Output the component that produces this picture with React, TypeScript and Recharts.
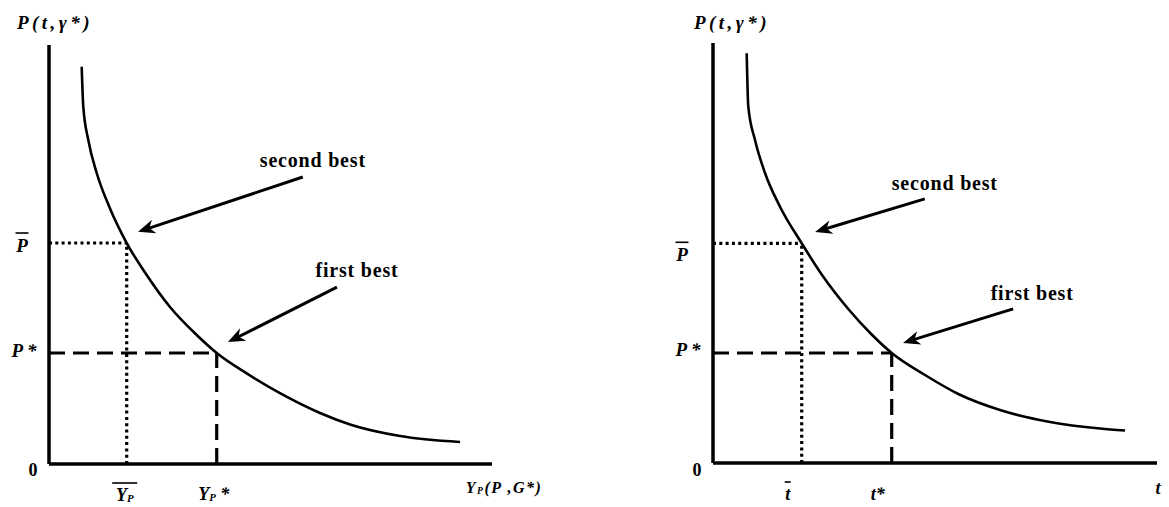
import React from "react";
import { Line, LineChart, ReferenceLine, XAxis, YAxis } from "recharts";

// P(t, γ*) curve, output version (left) and tax version (right)
const leftCurveX = [7.38, 7.74, 8.87, 10.77, 13.77, 17.54, 22.05, 27.31, 33.34, 37.86, 44.63, 52.14, 61.17, 67.95, 79.23, 92.78];
const leftCurveY = [94.82, 85.27, 77.33, 69.45, 60.98, 52.74, 45.11, 37.47, 30.79, 26.49, 21.62, 16.9, 12.17, 9.43, 6.68, 5.25];
const rightCurveX = [7.59, 7.95, 9.46, 11.71, 15.09, 19.98, 24.48, 30.47, 35.74, 40.25, 47.75, 55.25, 64.64, 75.9, 87.16, 92.79];
const rightCurveY = [97.55, 84.83, 76.9, 69.05, 61.02, 52.31, 44.88, 36.67, 30.6, 26.19, 20.95, 16.43, 12.62, 9.76, 8.21, 7.74];

// [x, y] points on the curve: second best (dotted) and first best (dashed)
const leftSecondBest = [17.54, 52.74];
const leftFirstBest = [37.86, 26.49];
const rightSecondBest = [19.98, 52.31];
const rightFirstBest = [40.25, 26.19];

// arrows [fromX, fromY, toX, toY]
const leftArrowSecond = [57.3, 68.5, 20.1, 55.4];
const leftArrowFirst = [65.0, 42.2, 40.4, 29.1];
const rightArrowSecond = [47.7, 62.9, 23.0, 55.0];
const rightArrowFirst = [67.6, 36.7, 42.8, 28.6];
const arrowTexts = ["second best", "first best"];

type TickLabel = { main: string; sub?: string; tail?: string; bar?: number };

const leftYTickLabels: TickLabel[] = [
  { main: "0" },
  { main: "P", tail: " *" },
  { main: "P", bar: 13 },
  { main: "P(t,γ*)" },
];
const leftXTickLabels: TickLabel[] = [
  { main: "Y", sub: "P", bar: 25 },
  { main: "Y", sub: "P", tail: " *" },
  { main: "Y", sub: "P", tail: "(P ,G*)" },
];
const rightYTickLabels: TickLabel[] = [
  { main: "0" },
  { main: "P", tail: " *" },
  { main: "P", bar: 13 },
  { main: "P(t,γ*)" },
];
const rightXTickLabels: TickLabel[] = [{ main: "t", bar: 6 }, { main: "t*" }, { main: "t" }];

const FONT = "'Liberation Serif', 'Times New Roman', serif";

function TickText({ x, y, index, labels, offsets }: any) {
  const label: TickLabel = labels[index];
  const [dx, dy, size, spacing] = offsets[index];
  const cx = x + dx;
  const cy = y + dy;
  return (
    <g>
      <text
        x={cx}
        y={cy}
        textAnchor="middle"
        dominantBaseline="central"
        fontFamily={FONT}
        fontWeight="bold"
        fontStyle={label.main === "0" ? "normal" : "italic"}
        fontSize={size}
        letterSpacing={spacing}
        fill="#000"
      >
        {label.main}
        {label.sub && (
          <tspan fontSize={size * 0.6} dy={3}>
            {label.sub}
          </tspan>
        )}
        {label.tail && <tspan dy={label.sub ? -3 : 0}>{label.tail}</tspan>}
      </text>
      {label.bar && (
        <line
          x1={cx - label.bar / 2}
          x2={cx + label.bar / 2}
          y1={cy - 12}
          y2={cy - 12}
          stroke="#000"
          strokeWidth={1.6}
        />
      )}
    </g>
  );
}

function Arrow({ x1, y1, x2, y2, text, tdx, tdy }: any) {
  const len = Math.hypot(x2 - x1, y2 - y1);
  const ux = (x2 - x1) / len;
  const uy = (y2 - y1) / len;
  const nx = -uy;
  const ny = ux;
  const L = 17;
  const W = 7;
  const bx = x2 - ux * L;
  const by = y2 - uy * L;
  const head = [
    [x2, y2],
    [bx + nx * W, by + ny * W],
    [x2 - ux * L * 0.7, y2 - uy * L * 0.7],
    [bx - nx * W, by - ny * W],
  ]
    .map((p) => p.join(","))
    .join(" ");
  return (
    <g>
      <line
        x1={x1}
        y1={y1}
        x2={x2 - ux * L * 0.6}
        y2={y2 - uy * L * 0.6}
        stroke="#000"
        strokeWidth={3}
      />
      <polygon points={head} fill="#000" />
      <text
        x={x1 + tdx}
        y={y1 + tdy}
        textAnchor="middle"
        dominantBaseline="central"
        fontFamily={FONT}
        fontWeight="bold"
        fontSize={20}
        letterSpacing={0.8}
        fill="#000"
      >
        {text}
      </text>
    </g>
  );
}

function Panel({
  curveX,
  curveY,
  secondBest,
  firstBest,
  arrowSecond,
  arrowFirst,
  yLabels,
  xLabels,
  yOffsets,
  xOffsets,
  textOffsets,
  left,
  width,
  margin,
}: any) {
  const data = curveX.map((x: number, i: number) => ({ x, y: curveY[i] }));
  const [sx, sy] = secondBest;
  const [fx, fy] = firstBest;
  const axis = { stroke: "#000", strokeWidth: 3.5 };
  const dotted = { stroke: "#000", strokeWidth: 3.2, strokeDasharray: "3 3.3" };
  const dashed = { stroke: "#000", strokeWidth: 3.2, strokeDasharray: "16 8" };
  return (
    <div style={{ position: "absolute", left, top: 0 }}>
      <LineChart width={width} height={507} data={data} margin={margin}>
        <XAxis
          dataKey="x"
          type="number"
          domain={[0, 100]}
          ticks={[sx, fx, 100]}
          interval={0}
          height={30}
          tickSize={0}
          tickMargin={0}
          tickLine={false}
          axisLine={axis}
          tick={(p: any) => <TickText {...p} labels={xLabels} offsets={xOffsets} />}
        />
        <YAxis
          type="number"
          domain={[0, 100]}
          ticks={[0, fy, sy, 100]}
          interval={0}
          width={30}
          tickSize={0}
          tickMargin={0}
          tickLine={false}
          axisLine={axis}
          tick={(p: any) => <TickText {...p} labels={yLabels} offsets={yOffsets} />}
        />
        {/* second best: dotted guides */}
        <ReferenceLine segment={[{ x: 0, y: sy }, { x: sx, y: sy }]} {...dotted} />
        <ReferenceLine segment={[{ x: sx, y: 0 }, { x: sx, y: sy }]} {...dotted} />
        {/* first best: dashed guides */}
        <ReferenceLine segment={[{ x: 0, y: fy }, { x: fx, y: fy }]} {...dashed} />
        <ReferenceLine segment={[{ x: fx, y: 0 }, { x: fx, y: fy }]} {...dashed} />
        {[arrowSecond, arrowFirst].map((a: number[], i: number) => (
          <ReferenceLine
            key={i}
            segment={[{ x: a[0], y: a[1] }, { x: a[2], y: a[3] }]}
            shape={(p: any) => (
              <Arrow
                {...p}
                text={arrowTexts[i]}
                tdx={textOffsets[i][0]}
                tdy={textOffsets[i][1]}
              />
            )}
          />
        ))}
        <Line
          dataKey="y"
          type="monotone"
          stroke="#000"
          strokeWidth={2.6}
          dot={false}
          isAnimationActive={false}
        />
      </LineChart>
    </div>
  );
}

export default function App() {
  return (
    <div
      style={{
        position: "absolute",
        left: 0,
        top: 0,
        width: 1169,
        height: 507,
        background: "#fff",
      }}
    >
      <Panel
        curveX={leftCurveX}
        curveY={leftCurveY}
        secondBest={leftSecondBest}
        firstBest={leftFirstBest}
        arrowSecond={leftArrowSecond}
        arrowFirst={leftArrowFirst}
        yLabels={leftYTickLabels}
        xLabels={leftXTickLabels}
        yOffsets={[
          [-16, 6, 18, 0],
          [-25, -3, 19, 0],
          [-27, 2, 19, 0],
          [6, -23, 19, 3.5],
        ]}
        xOffsets={[
          [-2, 31, 18, 0],
          [-3, 30, 18, 0],
          [12, 23, 16, 1.5],
        ]}
        textOffsets={[
          [10, -17],
          [20, -17],
        ]}
        left={0}
        width={584}
        margin={{ top: 45, right: 92, bottom: 13, left: 19 }}
      />
      <Panel
        curveX={rightCurveX}
        curveY={rightCurveY}
        secondBest={rightSecondBest}
        firstBest={rightFirstBest}
        arrowSecond={rightArrowSecond}
        arrowFirst={rightArrowFirst}
        yLabels={rightYTickLabels}
        xLabels={rightXTickLabels}
        yOffsets={[
          [-16, 7, 18, 0],
          [-25, -4, 19, 0],
          [-31, 11, 19, 0],
          [19, -21, 19, 3.5],
        ]}
        xOffsets={[
          [-14, 31, 18, 0],
          [-14, 31, 18, 0],
          [1, 25, 18, 0],
        ]}
        textOffsets={[
          [20, -16],
          [19, -16],
        ]}
        left={584}
        width={585}
        margin={{ top: 43, right: 12, bottom: 14, left: 99 }}
      />
    </div>
  );
}
